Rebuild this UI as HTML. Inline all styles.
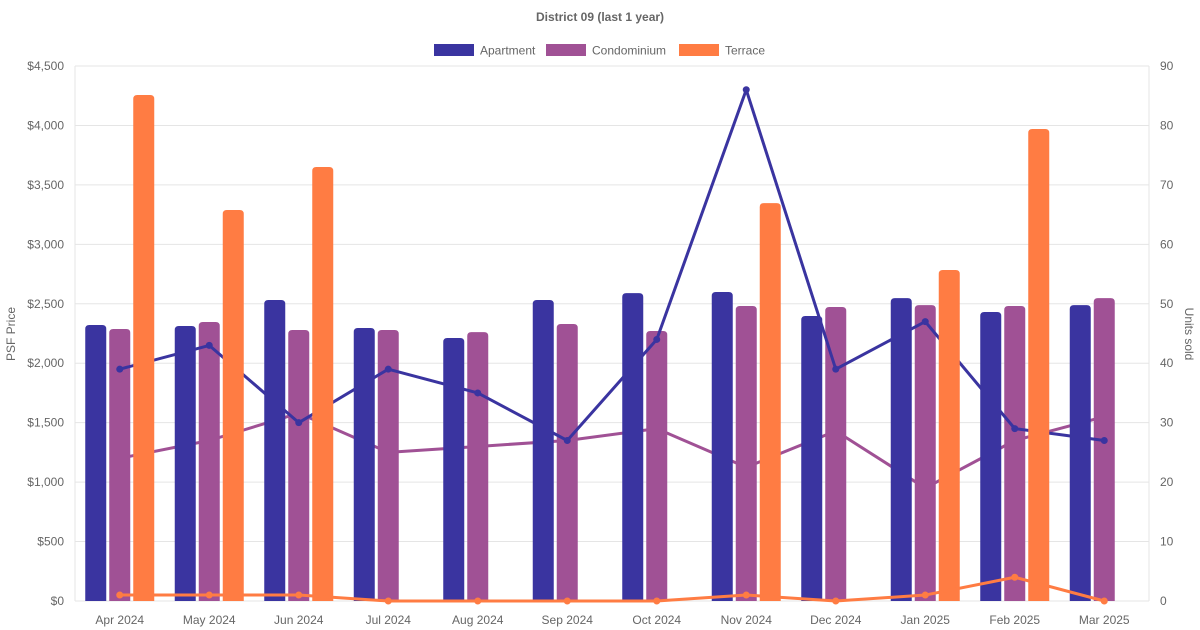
<!DOCTYPE html>
<html><head><meta charset="utf-8"><style>
html,body{margin:0;padding:0;background:#fff;}
svg{display:block;font-family:"Liberation Sans",Arial,sans-serif;}
</style></head><body>
<svg id="c" width="1200" height="630" xmlns="http://www.w3.org/2000/svg"></svg>
<script>
const S=document.getElementById('c');let h='';
const L=75,R=1149,T=66,B=601;
const yP=v=>B-v*(B-T)/4500, yU=v=>B-v*(B-T)/90;
const cw=(R-L)/12;
const labels=['Apr 2024','May 2024','Jun 2024','Jul 2024','Aug 2024','Sep 2024','Oct 2024','Nov 2024','Dec 2024','Jan 2025','Feb 2025','Mar 2025'];
const apt=[2321,2313,2532,2296,2212,2532,2590,2599,2397,2548,2431,2489];
const con=[2288,2347,2279,2279,2262,2330,2271,2481,2473,2489,2481,2548];
const ter=[4256,3289,3650,0,0,0,0,3347,0,2784,3970,0];
const uA=[39,43,30,39,35,27,44,86,39,47,29,27];
const uC=[24,27,31.6,25,26,27,29,22.5,28.6,19,27,31];
const uT=[1,1,1,0,0,0,0,1,0,1,4,0];
const CA='#3a34a0',CC='#a05195',CT='#ff7c43';
for(let i=0;i<=9;i++){const y=yP(i*500);h+=`<line x1="${L}" x2="${R}" y1="${y}" y2="${y}" stroke="#e5e5e5"/>`;
h+=`<text x="${L-11}" y="${y+4}" text-anchor="end" font-size="12" fill="#666">$${(i*500).toLocaleString('en-US')}</text>`;
h+=`<text x="${R+11}" y="${y+4}" font-size="12" fill="#666">${i*10}</text>`;}
h+=`<line x1="${L}" x2="${L}" y1="${T}" y2="${B}" stroke="#e5e5e5"/><line x1="${R}" x2="${R}" y1="${T}" y2="${B}" stroke="#e5e5e5"/>`;
labels.forEach((l,i)=>{h+=`<text x="${L+cw*(i+.5)}" y="${B+23}" text-anchor="middle" font-size="12" fill="#666">${l}</text>`;});
const bar=(x,v,c)=>{if(!v)return '';const y=yP(v),w=21,r=4;return `<path d="M${x-w/2} ${B}V${y+r}Q${x-w/2} ${y} ${x-w/2+r} ${y}H${x+w/2-r}Q${x+w/2} ${y} ${x+w/2} ${y+r}V${B}Z" fill="${c}"/>`;};
const line=(u,c,dots)=>{let p=u.map((v,i)=>`${L+cw*(i+.5)},${yU(v)}`).join(' ');let s=`<polyline points="${p}" fill="none" stroke="${c}" stroke-width="3" stroke-linejoin="round"/>`;
if(dots)u.forEach((v,i)=>{s+=`<circle cx="${L+cw*(i+.5)}" cy="${yU(v)}" r="3.5" fill="${c}"/>`});return s;};
h+=line(uC,CC,true);
con.forEach((v,i)=>h+=bar(L+cw*(i+.5),v,CC));
h+=line(uA,CA,true);
apt.forEach((v,i)=>h+=bar(L+cw*(i+.5)-24,v,CA));
ter.forEach((v,i)=>h+=bar(L+cw*(i+.5)+24,v,CT));
h+=line(uT,CT,true);
h+=`<text x="600" y="21" text-anchor="middle" font-size="12" font-weight="bold" fill="#666">District 09 (last 1 year)</text>`;
[[434,CA,'Apartment'],[546,CC,'Condominium'],[679,CT,'Terrace']].forEach(([x,c,t])=>{h+=`<rect x="${x}" y="44" width="40" height="12" fill="${c}"/><text x="${x+46}" y="54.5" font-size="12" fill="#666">${t}</text>`;});
h+=`<text transform="translate(15,334) rotate(-90)" text-anchor="middle" font-size="12" fill="#666">PSF Price</text>`;
h+=`<text transform="translate(1185,334) rotate(90)" text-anchor="middle" font-size="12" fill="#666">Units sold</text>`;
S.innerHTML=h;
</script>
</body></html>
